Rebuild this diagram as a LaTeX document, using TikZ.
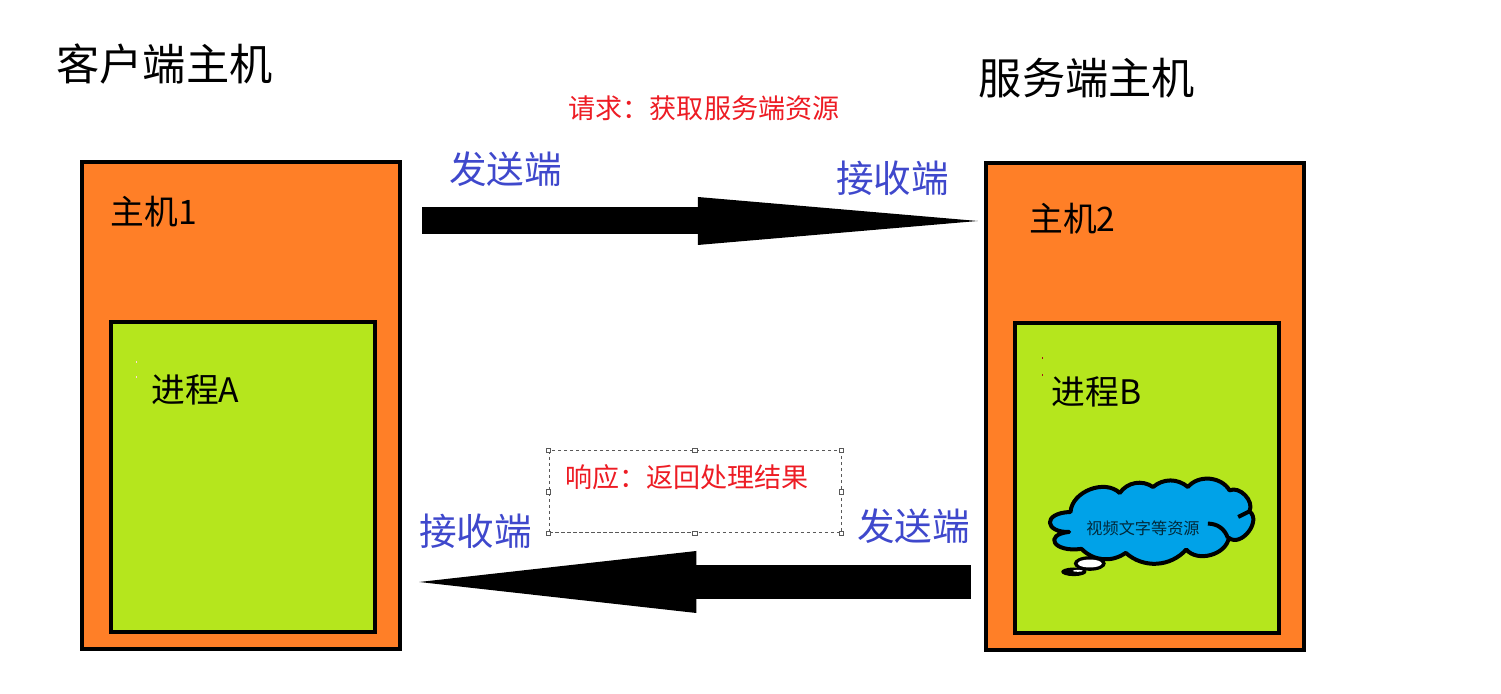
\documentclass[tikz,border=0pt]{standalone}
\usepackage{fontspec}
\setmainfont{Noto Sans CJK SC}
\usetikzlibrary{arrows.meta}
\definecolor{hostorange}{HTML}{FF7F27}
\definecolor{procgreen}{HTML}{B5E61D}
\definecolor{cloudblue}{HTML}{00A2E8}
\definecolor{labelblue}{HTML}{3F48CC}
\definecolor{labelred}{HTML}{ED1C24}
\definecolor{handlegray}{HTML}{595959}
\begin{document}
\begin{tikzpicture}[
  box/.style n args={3}{draw, line width=0.045cm, minimum width=#1cm, minimum height=#2cm,
              inner sep=0pt, fill=#3},
  title/.style={font=\fontsize{12.3pt}{14pt}\selectfont, inner sep=0pt},
  lbl/.style={font=\fontsize{9.6pt}{11pt}\selectfont, inner sep=0pt},
  side/.style={font=\fontsize{10.7pt}{12pt}\selectfont, text=labelblue, inner sep=0pt},
  msg/.style={font=\fontsize{7.7pt}{9pt}\selectfont, text=labelred, inner sep=0pt},
  bigarr/.style={line width=#1cm},
  handle/.style={draw=handlegray, fill=white, line width=0.012cm, minimum size=0.045cm, inner sep=0pt}
]
  \useasboundingbox (0,0) rectangle (15.01,-6.94);

  %-- Hosts
  \node[box={3.18}{4.87}{hostorange}] (host1) at (2.41,-4.055) {};
  \node[box={3.18}{4.87}{hostorange}] (host2) at (11.45,-4.065) {};
  \node[box={2.64}{3.10}{procgreen}]  (procA) at (2.43,-4.77) {};
  \node[box={2.64}{3.10}{procgreen}]  (procB) at (11.47,-4.78) {};

  %-- Titles
  \node[title] (client) at (1.645,-0.64) {客户端主机};
  \node[title] (server) at (10.87,-0.78) {服务端主机};
  \node[lbl] (name1) at (1.54,-2.12) {主机1};
  \node[lbl] (name2) at (10.725,-2.19) {主机2};
  \node[lbl] (nameA) at (1.955,-3.90) {进程A};
  \node[lbl] (nameB) at (10.965,-3.92) {进程B};

  %-- Specks
  \fill[white!85!red] (1.355,-3.63) rectangle (1.37,-3.615);
  \fill[white!85!red] (1.355,-3.78) rectangle (1.37,-3.765);
  \fill[labelred!70!black] (10.415,-3.59) rectangle (10.43,-3.575);
  \fill[labelred!70!black] (10.415,-3.76) rectangle (10.43,-3.745);

  %-- Cloud
  \begin{scope}[shift={(10,-3.4)}, x=0.003333cm, y=-0.003333cm]
    \draw[line width=0.04cm, fill=cloudblue, line join=round]
      (208,577) .. controls (135,580) and (125,520) .. (212,517)
      to[bend left=65] (360,460)
      to[bend left=45] (460,442) to[bend left=40] (565,442)
      to[bend left=55] (690,452) to[bend left=70] (750,515)
      to[bend left=90, looseness=1.2] (688,595) to[bend left=65] (560,630)
      to[bend left=45] (378,640) to[bend left=40] (245,628)
      .. controls (160,640) and (130,585) .. cycle;
    \draw[line width=0.04cm] (625,552) to[bend left=35] (685,595);
    \draw[line width=0.04cm] (716,532) -- (750,515);
    \fill (270,672) ellipse (48 and 22);
    \fill[white] (270,672) ellipse (36 and 12);
    \fill (222,697) ellipse (38 and 13);
    \fill[white] (234,694) ellipse (15 and 3);
  \end{scope}
  \node[font=\fontsize{4.6pt}{5pt}\selectfont, text=black!75!cloudblue, inner sep=0pt] (res) at (11.43,-5.28) {视频文字等资源};

  %-- Request
  \node[msg]  (req)   at (7.04,-1.08) {请求：获取服务端资源};
  \node[side] (send1) at (5.055,-1.69) {发送端};
  \node[side] (recv1) at (8.925,-1.78) {接收端};
  \coordinate (reqS) at (host1.east |- 0,-2.21);
  \coordinate (reqR) at (host2.west |- 0,-2.21);
  \draw[bigarr=0.27, -{Triangle[length=2.8cm, width=0.48cm, line width=0pt, sep=0pt]},
        shorten <=0.2cm, shorten >=0.06cm] (reqS) -- (reqR);

  %-- Response
  \node[draw=handlegray, dash pattern=on 0.035cm off 0.025cm, line width=0.01cm, minimum width=2.92cm, minimum height=0.82cm] (respbox) at (6.95,-4.92) {};
  \foreach \a in {north west, north, north east, west, east, south west, south, south east}
    \node[handle] at (respbox.\a) {};
  \node[msg]  (resp)  at (6.87,-4.77) {响应：返回处理结果};
  \node[side] (send2) at (9.135,-5.26) {发送端};
  \node[side] (recv2) at (4.755,-5.31) {接收端};
  \coordinate (respS) at (host2.west |- 0,-5.82);
  \coordinate (respR) at (host1.east |- 0,-5.82);
  \draw[bigarr=0.34, -{Triangle[length=2.77cm, width=0.62cm, line width=0pt, sep=0pt]},
        shorten <=0.13cm, shorten >=0.17cm] (respS) -- (respR);
\end{tikzpicture}
\end{document}
